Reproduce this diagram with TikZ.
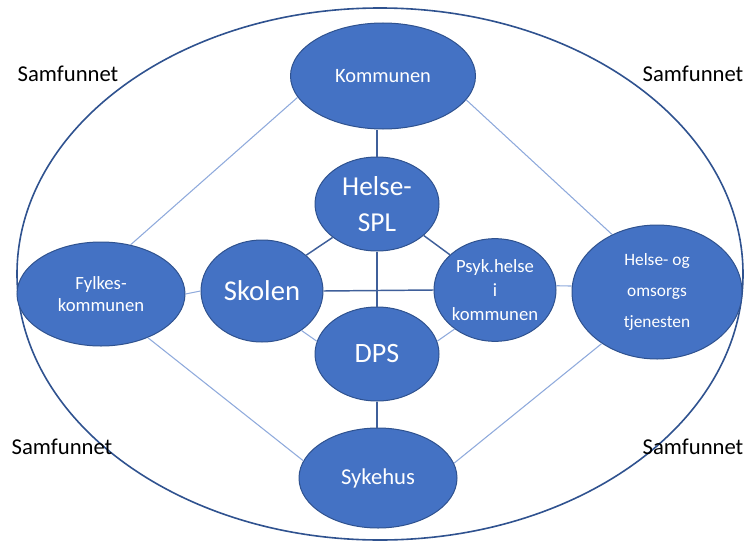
\documentclass[tikz,border=0pt]{standalone}
\usepackage{fontspec}
\setmainfont{Carlito}
\usetikzlibrary{shapes.geometric}
\usepackage{xcolor}
\definecolor{orgfill}{HTML}{4472C4}
\definecolor{orgline}{HTML}{2F528F}
\definecolor{linkdark}{HTML}{3F5F9A}
\definecolor{linklight}{HTML}{8FAADC}

\begin{document}
\begin{tikzpicture}[x=0.75pt,y=0.75pt,yscale=-1,xscale=1,
  org/.style={ellipse, draw=orgline, line width=0.75pt, fill=orgfill, text=white, inner sep=0pt, align=center},
  darklink/.style={draw=linkdark, line width=1.1pt},
  lightlink/.style={draw=linklight, line width=0.8pt},
  corner/.style={inner sep=0pt, font=\fontsize{17}{20}\selectfont}]
\useasboundingbox (0,0) rectangle (745,542);

%Outer ellipse
\draw [orgline, line width=1.2pt] (380,274) ellipse [x radius=363, y radius=266];

%Organisations
\node (kommunen) [org, minimum width=138.75pt, minimum height=79.5pt, font=\fontsize{15.3}{18}\selectfont] at (383,76) {Kommunen};
\node (spl) [org, minimum width=93pt, minimum height=70.5pt, font=\fontsize{20.5}{27}\selectfont] at (377,204) {Helse-\\SPL};
\node (skolen) [org, minimum width=91.5pt, minimum height=76.5pt, font=\fontsize{21.5}{24}\selectfont] at (262,291) {Skolen};
\node (dps) [org, minimum width=93pt, minimum height=70.5pt, font=\fontsize{21}{24}\selectfont] at (377,354) {DPS};
\node (psyk) [org, minimum width=91.5pt, minimum height=77pt, font=\fontsize{14}{18}\selectfont] at (495,290) {Psyk.helse\\i\\kommunen};
\node (fylkes) [org, minimum width=126pt, minimum height=78pt, font=\fontsize{14}{16}\selectfont] at (101,294) {Fylkes-\\kommunen};
\node (helseog) [org, minimum width=127.5pt, minimum height=100.5pt, font=\fontsize{13}{23}\selectfont] at (657,292) {Helse- og\\omsorgs\\tjenesten};
\node (sykehus) [org, minimum width=118.5pt, minimum height=75pt, font=\fontsize{17}{19}\selectfont] at (378,478) {Sykehus};

%Outer links
\draw [lightlink] (fylkes.59) -- (kommunen.194);
\draw [lightlink] (kommunen.344) -- (helseog.128);
\draw [lightlink] (fylkes.317) -- (sykehus.167);
\draw [lightlink] (sykehus.11) -- (helseog.223);
\draw [lightlink] (fylkes.east) -- (skolen.west);
\draw [lightlink] (psyk.4) -- (helseog.176);

%Inner links
\draw [darklink] (spl.north) -- (spl.north |- kommunen.south);
\draw [darklink] (spl.217) -- (skolen.39);
\draw [darklink] (spl.326) -- (psyk.142);
\draw [darklink] (spl.south) -- (dps.north);
\draw [darklink] (skolen.east) -- (psyk.west);
\draw [lightlink] (skolen.315) -- (dps.168);
\draw [lightlink] (dps.12) -- (psyk.224);
\draw [darklink] (dps.south) -- (dps.south |- sykehus.north);

% Text Node
\node (sam1) [corner] at (68,74) {Samfunnet};
% Text Node
\node (sam2) [corner] at (693,74) {Samfunnet};
% Text Node
\node (sam3) [corner] at (62,447) {Samfunnet};
% Text Node
\node (sam4) [corner] at (693,447) {Samfunnet};

\end{tikzpicture}
\end{document}
